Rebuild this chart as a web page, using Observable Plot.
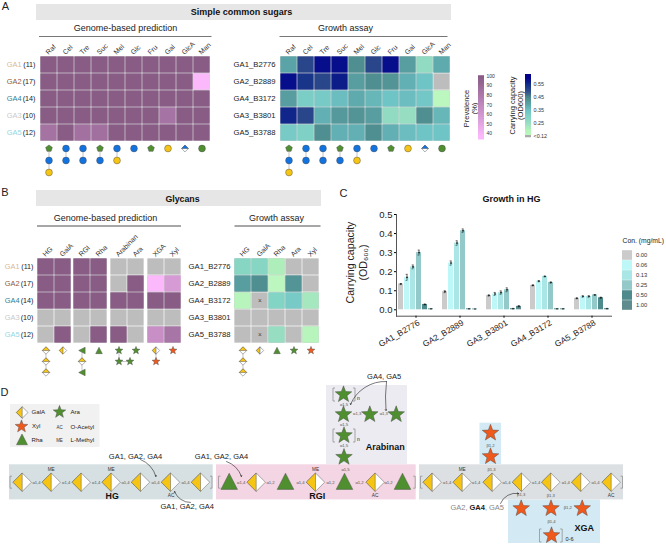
<!DOCTYPE html>
<html><head><meta charset="utf-8">
<script src="https://cdn.jsdelivr.net/npm/d3@7"></script>
<script src="https://cdn.jsdelivr.net/npm/@observablehq/plot@0.6"></script>
<style>
html,body{margin:0;padding:0;background:#fff}
#root{position:relative;width:666px;height:544px;overflow:hidden;font-family:"Liberation Sans",Arial,sans-serif}
#root svg{position:absolute;background:transparent;overflow:visible;font-family:"Liberation Sans",Arial,sans-serif;max-width:none}
</style></head><body><div id="root"></div>
<script>
// ---------- DATA ----------
const guilds = ["GA1","GA2","GA4","GA3","GA5"];
const guildSizes = [11,17,14,10,12];
const guildColors = ["#d9b892","#8c5a3c","#2f7f92","#c9c9c9","#93d6e2"];
const strains = ["GA1_B2776","GA2_B2889","GA4_B3172","GA3_B3801","GA5_B3788"];
const sugars = ["Raf","Cel","Tre","Suc","Mel","Glc","Fru","Gal","GlcA","Man"];
const sugarStacks = [["Fru","Glc","Gal"],["Glc","Glc"],["Glc","Glc"],["Fru","Glc"],["Glc","Gal"],["Glc"],["Fru"],["Gal"],["GlcA"],["Man"]];
const sugarPrevalence = [
  [100,100,100,100,100,100,100,100,100,100],
  [100,100,100,100,100,100,100,100,100,38],
  [100,100,100,100,100,100,100,100,100,100],
  [100,100,100,100,100,100,100,84,100,100],
  [85,100,86,87,100,100,100,100,100,100]];
const sugarGrowth = [
  [.40,.51,.585,.585,.44,.51,.585,.41,.27,.39],
  [.585,.54,.51,.57,.41,.44,.43,.38,.35,null],
  [.41,.32,.33,.36,.39,.37,.35,.36,.34,.17],
  [.56,.51,.38,.42,.43,.41,.27,.26,.44,.37],
  [.33,.31,.44,.38,.38,.44,.38,.36,.35,.35]];
const glycanGroups = [["HG","GalA"],["RGI","Rha"],["Arabinan","Ara"],["XGA","Xyl"]];
const glycanPrevalence = [
  [[100,100],[100,100],[null,null],[null,null]],
  [[100,100],[100,100],[null,100],[38,58]],
  [[100,100],[100,100],[100,100],[100,100]],
  [[null,null],[null,null],[null,null],[null,null]],
  [[null,100],[null,100],[100,null],[66,83]]];
const glycanGroupStacks = [
  [["GalAh","GalAh","GalAh"],["GalA"]],
  [["RhaL","GalAh","RhaL"],["Rha"]],
  [["Ara","Ara"],["Ara"]],
  [["GalA","Xyl"],["Xyl"]]];
const assayGlycans = ["HG","GalA","Rha","Ara","Xyl"];
const assayStacks = [["GalAh","GalAh","GalAh"],["GalA"],["Rha"],["Ara"],["Xyl"]];
const glycanGrowth = [
  [.29,.29,.21,null,null],
  [.41,.44,.17,.43,null],
  [.18,null,.30,.33,.23],
  [null,null,null,null,null],
  [null,null,.26,null,.18]];
const notTested = [["GalA","GA4_B3172"],["GalA","GA5_B3788"]];
const hgStrains = ["GA1_B2776","GA2_B2889","GA3_B3801","GA4_B3172","GA5_B3788"];
const concentrations = ["0.00","0.06","0.13","0.25","0.50","1.00"];
const concColors = ["#cbcbcb","#bdf7f7","#aae6e6","#93c9c9","#4f8a8c","#5f8d8f"];
const hgMeans = [
  [.135,.170,.225,.300,.028,.005],
  [.095,.245,.350,.415,.005,.004],
  [.075,.083,.090,.105,.006,.018],
  [.128,.150,.175,.143,.005,.005],
  [.060,.070,.070,.078,.063,.006]];
const hgErrors = [
  [.003,.016,.010,.013,.002,.001],
  [.005,.011,.012,.009,.001,.001],
  [.003,.008,.009,.010,.001,.003],
  [.002,.003,.002,.003,.001,.001],
  [.002,.004,.004,.002,.003,.001]];

// ---------- SCALES ----------
const prevalenceColor = {type:"linear",domain:[38,100],range:["#fbb9fb","#895c86"],clamp:true};
const growthColor = {type:"linear",clamp:true,
  domain:[.12,.2,.25,.3,.35,.4,.45,.5,.55,.6],
  range:["#c8ffc8","#b3f2b9","#9cdfc2","#82d4c4","#6fc4c6","#5aa3a6","#4e8a8c","#2e4b8a","#14308a","#00008b"]};

// ---------- GLYPHS ----------
const sym = pts => ({draw(c,s){const r=Math.sqrt(s/Math.PI);pts.forEach(([x,y],i)=>i?c.lineTo(x*r,y*r):c.moveTo(x*r,y*r));c.closePath();}});
const starPts = d3.range(10).map(i=>{const a=-Math.PI/2+i*Math.PI/5,q=i%2?.42:1;return [q*Math.cos(a),q*Math.sin(a)];});
const pentaPts = d3.range(5).map(i=>{const a=-Math.PI/2+i*2*Math.PI/5;return [Math.cos(a),Math.sin(a)];});
const S = {
  dia:sym([[0,-1],[1,0],[0,1],[-1,0]]), left:sym([[0,-1],[0,1],[-1,0]]), top:sym([[-1,0],[0,-1],[1,0]]),
  tri:sym([[0,-1],[1,.95],[-1,.95]]), triL:sym([[-1,0],[.95,-1],[.95,1]]), star:sym(starPts), penta:sym(pentaPts)
};
const YEL="#f6c514", GRN="#4f8f2f", ORG="#f0591c", BLU="#1273e0";
const GLYPH = {
  GalA:[[S.dia,"#fff"],[S.left,YEL]], GalAh:[[S.dia,"#fff"],[S.top,YEL]],
  Rha:[[S.tri,GRN]], RhaL:[[S.triL,GRN]], Ara:[[S.star,GRN]], Xyl:[[S.star,ORG]],
  Glc:[["circle",BLU]], Gal:[["circle",YEL]], Man:[["circle",GRN]], Fru:[[S.penta,GRN]], GlcA:[[S.dia,"#fff"],[S.top,BLU]]
};
function glyphMarks(data, opts, rOf){
  return Object.keys(GLYPH).flatMap(k=>{
    const sub=data.filter(d=>d.k===k);
    if(!sub.length) return [];
    return GLYPH[k].map(([symbol,fill])=>Plot.dot(sub,{...opts,symbol,fill,r:rOf(k),stroke:"#4a4a4a",strokeWidth:.45}));
  });
}

// ---------- PLACEMENT ----------
const root=document.getElementById("root");
function place(svg,left,top){svg.style.left=left+"px";svg.style.top=top+"px";root.append(svg);}
const ML=40,MT=30;
function heatmap({cols,rows,vals,color,left,top,width,height,axis,marks=[]}){
  const cells=rows.flatMap((r,i)=>cols.map((c,j)=>({r,c,v:vals[i][j]})));
  place(Plot.plot({width:width+ML,height:height+MT,marginLeft:ML,marginTop:MT,marginRight:0,marginBottom:0,
    x:{type:"band",domain:cols,padding:0,axis:null},y:{type:"band",domain:rows,padding:0,axis:null},color,
    marks:[
      Plot.cell(cells,{x:"c",y:"r",fill:"#bdbdbd",inset:.35}),
      Plot.cell(cells.filter(d=>d.v!=null),{x:"c",y:"r",fill:"v",inset:.35}),
      Plot.text(cols,{x:d=>d,text:d=>d,frameAnchor:"top",dx:-2,dy:-2,rotate:-45,textAnchor:"start",lineAnchor:"middle",fontSize:7,fill:"#333"}),
      axis?Plot.axisY({anchor:"left",tickSize:0,tickPadding:3,fontSize:7.7,label:null,fill:"#222"}):null,
      ...marks]}),left-ML,top-MT);
}
function guildLabels(rows){
  return rows.flatMap((r,i)=>[
    Plot.text([r],{y:d=>d,text:d=>d,frameAnchor:"left",textAnchor:"end",dx:-18,fontSize:7.4,fill:guildColors[i]}),
    Plot.text([r],{y:d=>d,text:()=>`(${guildSizes[i]})`,frameAnchor:"left",textAnchor:"end",dx:-4,fontSize:7.2,fill:"#222"})]);
}
function strip({cols,stacks,left,width,top,gap,rOf,extra=[]}){
  const data=cols.flatMap((c,i)=>stacks[i].map((k,l)=>({c,k,l})));
  const links=cols.flatMap((c,i)=>stacks[i].slice(1).map((k,l)=>({c,l,l2:l+1})));
  place(Plot.plot({width,height:gap*2+1,margin:0,x:{type:"band",domain:cols,padding:0,axis:null},
    y:{type:"point",domain:[0,1,2],padding:0,range:[0,gap*2],axis:null},
    marks:[Plot.ruleX(links,{x:"c",y1:"l",y2:"l2",stroke:"#888",strokeWidth:.5}),
      ...glyphMarks(data,{x:"c",y:"l"},rOf),...extra.flatMap(e=>glyphMarks(e.data,{x:"c",y:"l",dx:e.dx},rOf))]}),left,top);
}
const rSugar=k=>k==="Fru"?3.5:3.4;
const rGlycan=k=>k==="Ara"||k==="Xyl"?4.1:k==="Rha"||k==="RhaL"?3.3:3.7;

// ---------- OVERLAY: backgrounds, headings, panel D ----------
const txt=(arr,o={})=>Plot.text(arr,{x:d=>d[1],y:d=>d[2],text:d=>d[0],fontSize:d=>d[3],fill:"#222",...o});
const bands=[[36,451,4,20,"#e6e6e6"],[36,321,190,206,"#e6e6e6"],[10,99.5,404,447,"#f1f1f1"],
  [326,407,385,464,"#ecebf1"],[479.5,501,422.7,464,"#d3e9f3"],[508,600,499.5,543,"#d3e9f3"],
  [9,212.7,464.3,499.4,"#d6e0e3"],[216,415.7,464.3,499.4,"#f4d5e3"],[419,623,464.3,499.4,"#dde0e2"]];
const glyphList=[
  ...[21.7,50.7,80.7,110.7,140,170,200].map(x=>["GalA",x,481.7]),
  ...[255.7,315,374.7].map(x=>["GalA",x,481.7]),
  ...[228.7,285,344,402].map(x=>["Rha",x,481]),
  ...[431.7,461.7,491.7,521,550.3,580.3,610.7].map(x=>["GalA",x,481.7]),
  [ "Ara",343,394],["Ara",343,414],["Ara",369.3,414],["Ara",395.7,414],["Ara",343.5,435],["Ara",343.5,456.7],
  ["Xyl",490,432.5],["Xyl",490,456],["Xyl",520.7,508],["Xyl",550.5,508],["Xyl",581.7,508],["Xyl",551,535],
].map(([k,x,y])=>({k,x,y}));
const legendGlyphs=[["GalA",21.7,412],["Xyl",21,426],["Rha",21.5,439],["Ara",59,411.5]].map(([k,x,y])=>({k,x,y}));
const link14=[[36,"α1,4"],[65.7,"α1,4"],[95.7,"α1,4"],[125,"α1,4"],[155,"α1,4"],[185,"α1,4"],
  [240.7,"α1,4"],[270,"α1,2"],[300,"α1,4"],[330,"α1,2"],[359,"α1,2"],[388,"α1,2"],
  [446.7,"α1,4"],[475.7,"α1,4"],[506,"α1,4"],[535.7,"α1,4"],[565.3,"α1,4"],[595,"α1,4"]];
const LS=4.2;
const smallLinks=[...link14.map(([x,t])=>[t,x,482,LS]),
  ["α1,5",343.5,403.7,LS],["α1,3",356.7,413,LS],["α1,3",383.3,413,LS],["α1,5",343.5,424,LS],["α1,5",343.5,445,LS],["α1,5",345,468.7,LS],
  ["β1,2",490,445,LS],["β1,3",491,468.7,LS],["β1,3",520.7,494.3,LS],["β1,3",550.3,495.3,LS],["β1,2",567.3,507.3,LS],["β1,4",551,521,LS]];
const mods=[["ME",50.7,469,4.7],["ME",110.7,469,4.7],["AC",170.7,495,4.8],["ME",315,469,4.7],["AC",374.7,495,4.8],["ME",461.7,469,4.7],["AC",610.7,494.5,4.8],
  ["AC",59,427.5,4.5],["ME",59,440.5,4.5]];
const bracketList=[[9.5,481.7,12,1],[211.5,481.7,12,-1],[218,481.7,12,1],[414.7,481.7,12,-1],[420,481.7,12,1],[622,481.7,12,-1],
  [332.5,394,13,1],[354.5,394,13,-1],[332.5,435,13,1],[354.5,435,13,-1],[539,535,13,1],[561.7,535,13,-1]];
const bracketSegments=bracketList.flatMap(([x,y,h,d])=>[
  [x,y-h/2,x,y+h/2],[x,y-h/2,x+2*d,y-h/2],[x,y+h/2,x+2*d,y+h/2]]);
const arrows=[[140,459,155.5,476,25],[190,502,174,491,35],[226,461,241,476,25],[386,381,350,404,-35],[386,381,385.5,410,-6],[500,503,518,493,40]];

place(Plot.plot({width:666,height:544,margin:0,
  x:{domain:[0,666],range:[0,666],axis:null},y:{domain:[0,544],range:[0,544],axis:null},
  marks:[
    Plot.rect(bands,{x1:d=>d[0],x2:d=>d[1],y1:d=>d[2],y2:d=>d[3],fill:d=>d[4]}),
    Plot.link([[38.5,211],[279,447]],{x1:d=>d[0],x2:d=>d[1],y1:36,y2:36,stroke:"#777",strokeWidth:1.2}),
    Plot.link([[36.5,180.5],[234,320]],{x1:d=>d[0],x2:d=>d[1],y1:225.5,y2:225.5,stroke:"#222",strokeWidth:.8}),
    Plot.link([[118.5,129.5]],{x1:d=>d[0],x2:d=>d[1],y1:361,y2:361,stroke:"#888",strokeWidth:.5}),
    Plot.link(bracketSegments,{x1:d=>d[0],y1:d=>d[1],x2:d=>d[2],y2:d=>d[3],stroke:"#888",strokeWidth:.7}),
    txt([["A",5,5.5,11],["B",4.5,192,11],["C",343,193,11],["D",4,392,11]]),
    txt([["Simple common sugars",241,11.5,9],["Glycans",182,198.5,8.8],["Growth in HG",511,198.5,9],
      ["HG",111.7,495.7,8.8],["RGI",316.7,495.7,9],["Arabinan",384.7,446.7,9],["XGA",583.7,527.3,9]],{fontWeight:"bold",fill:"#111"}),
    txt([["Genome-based prediction",125,28,9],["Growth assay",345,28,9],["Genome-based prediction",105,217.5,9],["Growth assay",276,217.5,9],
      ["GA1, GA2, GA4",135,456.5,7.5],["GA1, GA2, GA4",186.7,506,7.5],["GA1, GA2, GA4",221,456.5,7.5],["GA4, GA5",383.7,376.5,7.5]]),
    txt([["Prevalence",466,108,7.5],["(%)",474,108,7.5],["Carrying capacity",512,105,7.5],["(OD600)",519.7,105,7.5]],{rotate:-90}),
    txt([["Carrying capacity",350,262,10.6],["(OD₆₀₀)",363,262,10.6]],{rotate:-90}),
    txt([["Con. (mg/mL)",622,240.7,6.8],["GalA",31,412,6.1],["Xyl",31.5,426,6.1],["Rha",31,439.5,6.1],["Ara",70,411.5,6.1],["O-Acetyl",70,426.5,6.2],["L-Methyl",70,440,6.2],["0-6",565,538.3,5.5]],{textAnchor:"start"}),
    txt([["GA2,",450,507.3,7.5],["GA5",488.5,507.3,7.5]],{textAnchor:"start",fill:"#888"}),
    txt([["GA4",469,507.3,7.5]],{textAnchor:"start",fontWeight:"bold"}),
    txt([[",",484.6,507.3,7.5]],{textAnchor:"start",fill:"#888"}),
    txt([["n",358,397.7,5],["n",358,439,5]],{textAnchor:"middle"}),
    txt(smallLinks,{fill:"#555"}),
    txt(mods,{fill:"#333"}),
    ...arrows.map(a=>Plot.arrow([a],{x1:d=>d[0],y1:d=>d[1],x2:d=>d[2],y2:d=>d[3],bend:a[4],stroke:"#222",strokeWidth:.6,headLength:3,headAngle:70})),
    ...glyphMarks(glyphList,{x:"x",y:"y"},k=>k==="GalA"?9.2:k==="Rha"?8.3:8.7),
    ...glyphMarks(legendGlyphs,{x:"x",y:"y"},k=>k==="GalA"?5.8:k==="Rha"?5.5:6.6)
  ]}),0,0);

// ---------- PANEL A ----------
heatmap({cols:sugars,rows:guilds,vals:sugarPrevalence,color:prevalenceColor,left:38.5,top:54.5,width:172.5,height:87.5,marks:guildLabels(guilds)});
heatmap({cols:sugars,rows:strains,vals:sugarGrowth,color:growthColor,left:278,top:54.5,width:173,height:87.5,axis:true});
strip({cols:sugars,stacks:sugarStacks,left:38.5,width:172.5,top:147.7,gap:12,rOf:rSugar});
strip({cols:sugars,stacks:sugarStacks,left:278,width:173,top:148,gap:12,rOf:rSugar});

// colour bars
place(Plot.plot({width:26,height:63.4,marginLeft:0,marginRight:20,marginTop:0,marginBottom:0,
  y:{domain:[34.8,100.7],axis:null},color:prevalenceColor,
  marks:[Plot.ruleY(d3.range(34.8,100.7,.5),{y:d=>d,stroke:d=>d,strokeWidth:1.2}),
    Plot.axisY({anchor:"right",ticks:[40,50,60,70,80,90,100],tickSize:0,tickPadding:2,fontSize:5,label:null,fill:"#333"})]}),478.3,75.3);
place(Plot.plot({width:26,height:63.3,marginLeft:0,marginRight:20,marginTop:0,marginBottom:0,
  y:{domain:[.1385,.6246],axis:null},color:growthColor,
  marks:[Plot.ruleY(d3.range(.156,.6246,.004),{y:d=>d,stroke:d=>d,strokeWidth:1.2}),
    Plot.rectY([0],{y1:.1385,y2:.156,fill:"#aaa"}),
    Plot.axisY({anchor:"right",ticks:[.148,.25,.35,.45,.55],tickFormat:d=>d<.2?"<0.12":d.toFixed(2),tickSize:0,tickPadding:2,fontSize:5.4,label:null,fill:"#333"})]}),524.7,74);

// ---------- PANEL B ----------
const groupLefts=[36.7,73.3,110,147],groupWidth=34;
glycanGroups.forEach((cols,g)=>{
  heatmap({cols,rows:guilds,vals:glycanPrevalence.map(r=>r[g]),color:prevalenceColor,left:groupLefts[g],top:256.7,width:groupWidth,height:87.3,
    marks:g===0?guildLabels(guilds):[]});
  strip({cols,stacks:glycanGroupStacks[g],left:groupLefts[g],width:groupWidth,top:350,gap:11,rOf:rGlycan,
    extra:g===2?[{data:[{c:"Arabinan",k:"Ara",l:1}],dx:11}]:[]});
});
heatmap({cols:assayGlycans,rows:strains,vals:glycanGrowth,color:growthColor,left:233,top:256.7,width:86,height:87.3,axis:true,
  marks:[Plot.text(notTested,{x:d=>d[0],y:d=>d[1],text:()=>"×",fontSize:6.5,fill:"#444"})]});
strip({cols:assayGlycans,stacks:assayStacks,left:233,width:86,top:350,gap:11,rOf:rGlycan});

// ---------- PANEL C ----------
const hgRows=hgStrains.flatMap((g,i)=>concentrations.map((c,j)=>({g,c,v:hgMeans[i][j],e:hgErrors[i][j]})));
const whiskers=hgRows.filter(d=>d.e>=.002);
place(Plot.plot({width:300,height:166,marginLeft:56,marginTop:24,marginRight:15,marginBottom:40.3,
  fx:{domain:hgStrains,paddingInner:.12,paddingOuter:.14,label:null,axis:null},
  x:{type:"band",domain:concentrations,axis:null,paddingInner:.14,paddingOuter:0},
  y:{domain:[-.0336,.5],axis:null},
  color:{type:"ordinal",domain:concentrations,range:concColors},
  marks:[
    Plot.barY(hgRows,{fx:"g",x:"c",y1:0,y2:"v",fill:"c"}),
    Plot.ruleX(whiskers,{fx:"g",x:"c",y1:d=>d.v-d.e,y2:d=>d.v+d.e,stroke:"#111",strokeWidth:.6}),
    Plot.tickY(whiskers,{fx:"g",x:"c",y:d=>d.v+d.e,stroke:"#111",strokeWidth:.5,insetLeft:1.6,insetRight:1.6}),
    Plot.tickY(whiskers,{fx:"g",x:"c",y:d=>d.v-d.e,stroke:"#111",strokeWidth:.5,insetLeft:1.6,insetRight:1.6}),
    Plot.dot(hgRows,{fx:"g",x:"c",y:"v",r:.8,fill:"#111"}),
    Plot.frame({anchor:"left",facet:"super",stroke:"#555",strokeWidth:1}),
    Plot.frame({anchor:"bottom",facet:"super",stroke:"#555",strokeWidth:1}),
    Plot.axisY({anchor:"left",ticks:[0,.1,.2,.3,.4,.5],tickFormat:".1f",tickSize:2,tickPadding:2,fontSize:9.5,label:null,fill:"#222"}),
    Plot.axisFx({anchor:"bottom",tickSize:2,text:null,label:null}),
    Plot.text(hgStrains,{fx:d=>d,text:d=>d,frameAnchor:"bottom",dx:3,dy:6,rotate:-30,textAnchor:"end",lineAnchor:"middle",fontSize:8.4,fill:"#222"})
  ]}),333,190);
place(Plot.plot({width:34,height:63,marginLeft:0,marginRight:24,marginTop:0,marginBottom:0,
  y:{type:"band",domain:concentrations,padding:0,axis:null},color:{type:"ordinal",domain:concentrations,range:concColors},
  marks:[Plot.cell(concentrations,{y:d=>d,fill:d=>d,insetTop:.2,insetBottom:.2}),
    Plot.axisY({anchor:"right",tickSize:0,tickPadding:3.5,fontSize:5.8,label:null,fill:"#333"})]}),621.7,247.7);
</script></body></html>
